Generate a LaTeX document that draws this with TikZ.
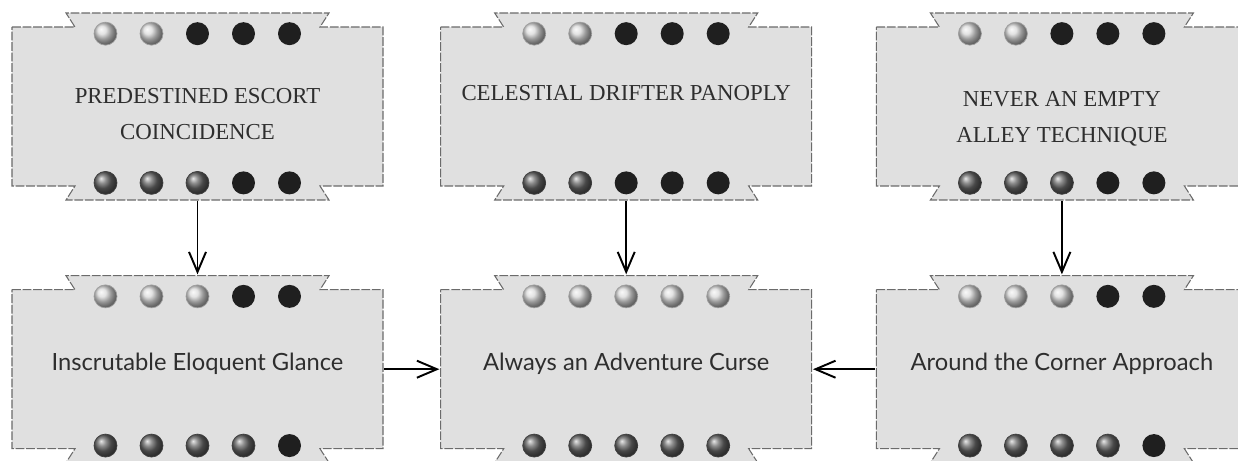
\documentclass[tikz,border=0pt]{standalone}
\usepackage{fontspec}
\newfontfamily\runefont{Liberation Serif}
\newfontfamily\spellfont{Lato}
\usetikzlibrary{positioning,arrows.meta}

\definecolor{cardfill}{gray}{0.88}
\definecolor{cardline}{gray}{0.42}
\definecolor{ink}{gray}{0.18}

% text of a card, lifted by #1
\newcommand\lbl[2]{\raisebox{#1}[0pt][0pt]{\begin{tabular}{@{}c@{}}#2\end{tabular}}}

% five pips on top and five at the bottom of a card
\newcommand\pips[3]{%
  \foreach \pp [count=\i] in {#2}
    \node[pip\pp] (#1-t\i) at ([xshift=(\i-3)*0.92cm, yshift=-0.44cm]#1.north) {};
  \foreach \pp [count=\i] in {#3}
    \node[pip\pp] (#1-b\i) at ([xshift=(\i-3)*0.92cm, yshift=0.37cm]#1.south) {};
}

\begin{document}
\begin{tikzpicture}[
  card/.style={rectangle, minimum width=7.46cm, minimum height=3.78cm, inner sep=0pt, fill=white,
    text=ink,
    path picture={
      \filldraw[fill=cardfill, draw=cardline, line width=0.6pt, dash pattern=on 5pt off 1pt]
        ([xshift=0.02cm, yshift=-0.3cm]path picture bounding box.north west)
        -- ++(1.26,0) -- ++(-0.18,0.28) -- ++(5.26,0) -- ++(-0.18,-0.28) -- ++(1.26,0)
        -- ++(0,-3.18) -- ++(-1.26,0) -- ++(0.18,-0.28) -- ++(-5.26,0) -- ++(0.18,0.28)
        -- ++(-1.26,0) -- cycle;}},
  rune/.style={font=\runefont\fontsize{13}{20}\selectfont},
  spell/.style={font=\spellfont\fontsize{13.5}{20}\selectfont},
  pipL/.style={circle, minimum size=0.46cm, inner sep=0pt, draw=gray!75, line width=0.4pt, ball color=gray!30},
  pipM/.style={circle, minimum size=0.46cm, inner sep=0pt, draw=gray!50!black, line width=0.4pt, ball color=gray!80!black},
  pipB/.style={circle, minimum size=0.46cm, inner sep=0pt, fill=black!88},
  link/.style={line width=1.1pt, -{Straight Barb[length=4mm,width=3.4mm]}},
]
  \useasboundingbox (0,0) rectangle (24.76,-9.2);

  % Cards
  \node[card, rune] (pec) at (3.95,-2.13) {\lbl{-7.5pt}{PREDESTINED ESCORT\\COINCIDENCE}};
  \node[card, rune, right=1.1cm of pec] (cdp) {\lbl{4.7pt}{CELESTIAL DRIFTER PANOPLY}};
  \node[card, rune, right=1.24cm of cdp] (naet) {\lbl{-9.2pt}{NEVER AN EMPTY\\ALLEY TECHNIQUE}};
  \node[card, spell, below=1.46cm of pec] (ieg) {\lbl{-0.5pt}{Inscrutable Eloquent Glance}};
  \node[card, spell, below=1.46cm of cdp] (aac) {\lbl{-0.5pt}{Always an Adventure Curse}};
  \node[card, spell, below=1.46cm of naet] (atca) {\lbl{-0.5pt}{Around the Corner Approach}};

  % Pips
  \pips{pec}{L,L,B,B,B}{M,M,M,B,B}
  \pips{cdp}{L,L,B,B,B}{M,M,B,B,B}
  \pips{naet}{L,L,B,B,B}{M,M,M,B,B}
  \pips{ieg}{L,L,L,B,B}{M,M,M,M,B}
  \pips{aac}{L,L,L,L,L}{M,M,M,M,M}
  \pips{atca}{L,L,L,B,B}{M,M,M,M,B}

  % Arrows
  \draw[link] (pec) -- (ieg);
  \draw[link] (cdp) -- (aac);
  \draw[link] (naet) -- (atca);
  \draw[link] (ieg) -- (aac);
  \draw[link] (atca) -- (aac);
\end{tikzpicture}
\end{document}
